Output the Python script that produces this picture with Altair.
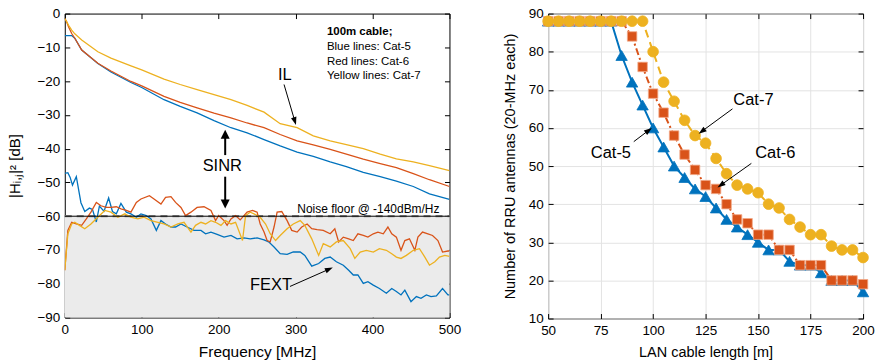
import math
import altair as alt
import pandas as pd

# ---------------- Left panel data: |H_ij|^2 in dB vs frequency ----------------
IL_FREQ = [0, 2, 5, 9, 13, 22, 43, 60, 86, 100, 129, 150, 172, 194, 216, 237, 259, 280, 302, 323, 345, 366, 388, 410, 431, 453, 474, 500]
IL_CAT5 = [-6.5, -6.5, -6.5, -6.5, -7.3, -10.8, -14.8, -17.3, -20.4, -21.9, -25.5, -27.5, -29.4, -31.7, -33.8, -35.3, -37.3, -39.2, -41.0, -42.3, -43.9, -45.3, -47.0, -48.3, -49.6, -51.2, -53.4, -55.0]
IL_CAT6 = [-1.5, -2.2, -4.0, -5.9, -7.3, -10.8, -14.7, -17.0, -20.1, -21.4, -24.5, -26.3, -27.9, -29.5, -30.9, -32.4, -33.8, -35.8, -37.7, -38.9, -40.2, -41.6, -43.1, -44.4, -45.6, -47.4, -49.2, -51.2]
IL_CAT7 = [-1.5, -2.2, -3.5, -4.9, -6.0, -7.8, -11.3, -13.2, -15.5, -16.7, -19.4, -21.0, -22.5, -24.0, -25.5, -27.2, -29.2, -32.6, -33.8, -36.2, -37.7, -38.8, -40.0, -41.6, -43.0, -43.9, -45.0, -46.5]

FEXT5_FREQ = [0, 4, 7, 10, 15, 21, 26, 32, 36, 41, 45, 51, 57, 62, 67, 73, 80, 86, 93, 99, 106, 112, 119, 125, 131, 138, 144, 151, 159, 168, 177, 183, 190, 198, 207, 216, 224, 233, 241, 250, 259, 265, 272, 280, 289, 297, 306, 312, 321, 330, 338, 345, 353, 362, 369, 375, 381, 388, 394, 401, 409, 418, 425, 431, 437, 442, 450, 457, 463, 470, 476, 483, 491, 498, 500]
FEXT5 = [-47.3, -47.1, -48.5, -50.8, -48.3, -56.0, -58.6, -57.6, -58.0, -61.7, -57.0, -58.5, -54.6, -58.6, -59.3, -56.2, -58.8, -59.3, -60.3, -59.3, -59.8, -60.8, -64.2, -61.3, -62.3, -63.2, -63.2, -62.3, -63.2, -64.2, -64.2, -65.2, -64.7, -65.4, -66.2, -65.7, -66.7, -66.4, -66.7, -66.4, -67.0, -67.6, -69.1, -71.1, -71.3, -70.6, -70.6, -71.6, -74.8, -74.0, -72.5, -72.1, -73.5, -74.5, -76.0, -77.4, -77.4, -79.9, -79.4, -80.4, -81.4, -82.8, -81.4, -82.3, -83.3, -81.9, -85.3, -83.8, -84.3, -83.3, -83.8, -83.6, -81.4, -83.3, -83.3]

FEXT6_FREQ = [0, 4, 9, 15, 22, 28, 34, 41, 47, 54, 60, 67, 73, 80, 86, 93, 99, 110, 116, 125, 131, 138, 144, 151, 157, 164, 172, 181, 190, 196, 200, 207, 211, 216, 222, 228, 237, 244, 250, 254, 259, 263, 267, 272, 276, 282, 289, 295, 302, 308, 315, 321, 328, 336, 345, 351, 356, 362, 369, 375, 381, 388, 394, 401, 407, 414, 420, 425, 431, 437, 442, 448, 455, 459, 465, 472, 478, 485, 491, 498, 500]
FEXT6 = [-76.0, -64.2, -61.8, -62.3, -62.7, -60.8, -58.8, -55.9, -56.9, -57.4, -57.4, -57.2, -57.8, -58.3, -58.8, -55.9, -54.9, -53.9, -54.9, -56.4, -54.4, -54.2, -55.9, -57.4, -59.8, -58.8, -57.4, -57.2, -58.3, -61.3, -59.8, -61.3, -62.7, -60.8, -59.8, -61.1, -58.8, -58.3, -58.8, -62.3, -64.7, -67.2, -67.6, -63.2, -58.8, -58.6, -61.3, -64.2, -64.7, -63.2, -62.3, -63.7, -64.0, -64.2, -65.2, -63.7, -67.6, -66.2, -66.7, -67.2, -65.2, -65.7, -66.2, -65.2, -64.7, -65.2, -63.2, -65.2, -66.2, -70.1, -67.2, -66.7, -70.1, -66.2, -64.7, -65.2, -65.7, -67.2, -70.6, -70.3, -70.3]

FEXT7_FREQ = [0, 4, 9, 13, 19, 26, 34, 43, 52, 60, 69, 78, 86, 95, 103, 112, 121, 129, 138, 147, 155, 164, 170, 177, 183, 190, 196, 203, 209, 216, 222, 231, 235, 241, 246, 254, 261, 267, 274, 280, 289, 297, 306, 312, 321, 330, 336, 345, 353, 362, 371, 377, 384, 392, 401, 409, 418, 425, 431, 437, 444, 453, 461, 468, 474, 481, 487, 494, 500]
FEXT7 = [-76.0, -65.2, -62.3, -61.8, -62.7, -63.7, -62.3, -60.3, -58.3, -58.8, -60.3, -59.3, -60.3, -60.8, -60.3, -61.3, -61.8, -62.3, -63.2, -62.3, -61.8, -64.7, -62.7, -61.8, -62.3, -61.3, -61.8, -62.7, -61.3, -62.3, -61.8, -67.2, -59.8, -58.8, -59.3, -60.3, -62.3, -65.2, -67.2, -65.7, -63.7, -62.3, -61.3, -62.7, -66.7, -71.6, -68.1, -69.1, -67.6, -67.2, -69.6, -72.5, -70.6, -70.1, -70.6, -69.6, -70.1, -71.1, -72.1, -72.5, -71.6, -70.1, -69.6, -72.1, -74.5, -73.5, -72.1, -71.6, -71.9]

NOISE_FLOOR = -60
FREQ_DOMAIN = [0, 500]
DB_DOMAIN = [-90, 0]
FREQ_TICKS = [0, 100, 200, 300, 400, 500]
DB_TICKS = [-90, -80, -70, -60, -50, -40, -30, -20, -10, 0]

LEGEND_LINES = ["100m cable;", "Blue lines: Cat-5", "Red lines: Cat-6", "Yellow lines: Cat-7"]
LEGEND_Y = [-5.6, -9.8, -14.2, -18.6]

# ---------------- Right panel data: RRU antennas vs LAN length ----------------
LAN_LENGTH = [50, 55, 60, 65, 70, 75, 80, 85, 90, 95, 100, 105, 110, 115, 120, 125, 130, 135, 140, 145, 150, 155, 160, 165, 170, 175, 180, 185, 190, 195, 200]
RRU_CAT5 = [88, 88, 88, 88, 88, 88, 88, 79, 72, 66, 60, 55, 50, 47, 44, 42, 39, 36, 34, 32, 30, 28, 28, 25, 24, 24, 22, 20, 20, 20, 17]
RRU_CAT6 = [88, 88, 88, 88, 88, 88, 88, 88, 84, 76, 69, 64, 58, 53, 49, 45, 44, 40, 36, 35, 32, 32, 28, 28, 24, 24, 24, 20, 20, 20, 19]
RRU_CAT7 = [88, 88, 88, 88, 88, 88, 88, 88, 88, 88, 80, 72, 67, 62, 58, 56, 52, 48, 45, 44, 43, 40, 39, 36, 34, 32, 32, 29, 28, 28, 26]
LEN_DOMAIN = [50, 200]
RRU_DOMAIN = [10, 90]
LEN_TICKS = [50, 75, 100, 125, 150, 175, 200]
RRU_TICKS = [10, 20, 30, 40, 50, 60, 70, 80, 90]

BLUE, RED, YELLOW = "#0072BD", "#D95319", "#EDB120"
FONT = "Liberation Sans"

W1, H1 = 386, 305
W2, H2 = 316, 306


def inward_tick_layers(df, xf, yf, xs, ys, xv, yv):
    base = alt.Chart(df).mark_point(opacity=0)
    out = []
    for xo, yo in (("bottom", "left"), ("top", "right")):
        out.append(base.encode(
            x=alt.X(f"{xf}:Q", scale=xs, axis=alt.Axis(orient=xo, offset=-5, tickSize=5, labels=False,
                                                     domain=False, grid=False, title=None, values=xv,
                                                     tickColor="black", tickWidth=1)),
            y=alt.Y(f"{yf}:Q", scale=ys, axis=alt.Axis(orient=yo, offset=-5, tickSize=5, labels=False,
                                                     domain=False, grid=False, title=None, values=yv,
                                                     tickColor="black", tickWidth=1)),
        ))
    return out


def arrow_df(arrows, W, H, xdom, ydom, head_len):
    sx = W / (xdom[1] - xdom[0])
    sy = H / (ydom[1] - ydom[0])
    rows = []
    for x0, y0, x1, y1 in arrows:
        dxp = (x1 - x0) * sx
        dyp = -(y1 - y0) * sy
        lp = math.hypot(dxp, dyp)
        ang = math.degrees(math.atan2(dxp, -dyp)) % 360
        f = max(0.0, (lp - head_len * 0.7) / lp)
        rows.append(dict(x0=x0, y0=y0, xe=x0 + (x1 - x0) * f, ye=y0 + (y1 - y0) * f, x1=x1, y1=y1, angle=ang))
    return pd.DataFrame(rows)


def arrow_layers(df, xs, ys, width, head_len, half_w):
    shape = f"M0,0L{half_w},1L-{half_w},1Z"
    shaft = alt.Chart(df).mark_rule(color="black", strokeWidth=width).encode(
        x=alt.X("x0:Q", scale=xs, axis=None), y=alt.Y("y0:Q", scale=ys, axis=None),
        x2="xe:Q", y2="ye:Q")
    head = alt.Chart(df).mark_point(shape=shape, filled=True, color="black", opacity=1,
                                    size=4 * head_len * head_len, strokeWidth=0).encode(
        x=alt.X("x1:Q", scale=xs, axis=None), y=alt.Y("y1:Q", scale=ys, axis=None),
        angle=alt.Angle("angle:Q", scale=None))
    return [shaft, head]


# ================= LEFT CHART =================
xs1 = alt.Scale(domain=FREQ_DOMAIN, nice=False, zero=False)
ys1 = alt.Scale(domain=DB_DOMAIN, nice=False, zero=False)

floor_df = pd.DataFrame({"x0": [FREQ_DOMAIN[0]], "x1": [FREQ_DOMAIN[1]], "y0": [NOISE_FLOOR], "y1": [DB_DOMAIN[0]]})
gray = alt.Chart(floor_df).mark_rect(color="#ebebeb").encode(
    x=alt.X("x0:Q", scale=xs1, axis=None), x2="x1:Q",
    y=alt.Y("y0:Q", scale=ys1, axis=None), y2="y1:Q")
floor_dash = alt.Chart(floor_df).mark_rule(color="#8c8c8c", strokeWidth=2.2, strokeDash=[7, 5]).encode(
    x=alt.X("x0:Q", scale=xs1, axis=None), x2="x1:Q", y=alt.Y("y0:Q", scale=ys1, axis=None))
floor_line = alt.Chart(floor_df).mark_rule(color="black", strokeWidth=1).encode(
    x=alt.X("x0:Q", scale=xs1, axis=None), x2="x1:Q", y=alt.Y("y0:Q", scale=ys1, axis=None))


def series_line(freq, vals, color, main_axes=False):
    df = pd.DataFrame({"f": freq, "v": vals})
    if main_axes:
        xa = alt.Axis(orient="bottom", title="Frequency [MHz]", values=FREQ_TICKS, ticks=False, tickSize=0,
                      domain=False, grid=False, labelPadding=5, titlePadding=9, labelFlush=False,
                      labelOverlap=False, titleFontSize=15.5)
        ya = alt.Axis(orient="left", title="|Hᵢ,ⱼ|² [dB]", values=DB_TICKS, ticks=False, tickSize=0,
                      domain=False, grid=False, labelPadding=5, titlePadding=15, labelFlush=False,
                      labelOverlap=False, titleFontSize=15)
    else:
        xa = None
        ya = None
    return alt.Chart(df).mark_line(color=color, strokeWidth=1.3, clip=True).encode(
        x=alt.X("f:Q", scale=xs1, axis=xa), y=alt.Y("v:Q", scale=ys1, axis=ya))


il_main = series_line(IL_FREQ, IL_CAT5, BLUE, main_axes=True)
left_layers = [gray, floor_dash,
               series_line(FEXT5_FREQ, FEXT5, BLUE),
               series_line(FEXT6_FREQ, FEXT6, RED),
               series_line(FEXT7_FREQ, FEXT7, YELLOW),
               floor_line,
               il_main,
               series_line(IL_FREQ, IL_CAT6, RED),
               series_line(IL_FREQ, IL_CAT7, YELLOW)]

left_layers += inward_tick_layers(pd.DataFrame({"f": IL_FREQ, "v": IL_CAT6}), "f", "v", xs1, ys1, FREQ_TICKS, DB_TICKS)

legend_df = pd.DataFrame({"t": LEGEND_LINES, "x": [340.7] * 4, "y": LEGEND_Y,
                          "w": ["bold", "normal", "normal", "normal"]})
for i, row in legend_df.iterrows():
    left_layers.append(alt.Chart(legend_df.iloc[[i]]).mark_text(
        align="left", baseline="middle", fontSize=11.5, font=FONT, color="black",
        fontWeight=row["w"]).encode(
        x=alt.X("x:Q", scale=xs1, axis=None), y=alt.Y("y:Q", scale=ys1, axis=None), text="t:N"))

ann_left = pd.DataFrame({"t": ["IL", "SINR", "FEXT"], "x": [286, 204.7, 268], "y": [-18.3, -45.1, -80.3]})
left_layers.append(alt.Chart(ann_left).mark_text(fontSize=16.5, font=FONT, color="black", baseline="middle").encode(
    x=alt.X("x:Q", scale=xs1, axis=None), y=alt.Y("y:Q", scale=ys1, axis=None), text="t:N"))
noise_df = pd.DataFrame({"t": ["Noise floor @ -140dBm/Hz"], "x": [487], "y": [-58.0]})
left_layers.append(alt.Chart(noise_df).mark_text(fontSize=12, font=FONT, color="black", align="right", baseline="middle").encode(
    x=alt.X("x:Q", scale=xs1, axis=None), y=alt.Y("y:Q", scale=ys1, axis=None), text="t:N"))

thin_left = arrow_df([(285, -21.0, 300.5, -33.0), (292.7, -80.8, 348.4, -75.2)], W1, H1, FREQ_DOMAIN, DB_DOMAIN, 8)
thick_left = arrow_df([(208.5, -41.9, 208.5, -34.4), (208.5, -48.3, 208.5, -57.7)], W1, H1, FREQ_DOMAIN, DB_DOMAIN, 9)
left_layers += arrow_layers(thin_left, xs1, ys1, 1, 8, 0.35)
left_layers += arrow_layers(thick_left, xs1, ys1, 2, 9, 0.5)

left = alt.layer(*left_layers).resolve_axis(x="independent", y="independent").properties(width=W1, height=H1)

# ================= RIGHT CHART =================
xs2 = alt.Scale(domain=LEN_DOMAIN, nice=False, zero=False)
ys2 = alt.Scale(domain=RRU_DOMAIN, nice=False, zero=False)


def rru_series(vals, color, dash, shape, size, edge, main_axes=False):
    df = pd.DataFrame({"L": LAN_LENGTH, "N": vals})
    if main_axes:
        xa = alt.Axis(orient="bottom", title="LAN cable length [m]", values=LEN_TICKS, ticks=False, tickSize=0,
                      domain=False, grid=True, gridColor="#e3e3e3", labelPadding=5, titlePadding=9,
                      labelFlush=False, labelOverlap=False, titleFontSize=14.5)
        ya = alt.Axis(orient="left", title="Number of RRU antennas (20-MHz each)", values=RRU_TICKS, ticks=False,
                      tickSize=0, domain=False, grid=True, gridColor="#e3e3e3", labelPadding=5, titlePadding=11,
                      labelFlush=False, labelOverlap=False, titleFontSize=14.5)
    else:
        xa = None
        ya = None
    line_kw = dict(color=color, strokeWidth=2, clip=True)
    if dash:
        line_kw["strokeDash"] = dash
    line = alt.Chart(df).mark_line(**line_kw).encode(
        x=alt.X("L:Q", scale=xs2, axis=xa), y=alt.Y("N:Q", scale=ys2, axis=ya))
    pts = alt.Chart(df).mark_point(shape=shape, filled=True, color=color, opacity=1, size=size,
                                   stroke=edge, strokeWidth=0.8, clip=False).encode(
        x=alt.X("L:Q", scale=xs2, axis=None), y=alt.Y("N:Q", scale=ys2, axis=None))
    return [line, pts]


right_layers = []
right_layers += rru_series(RRU_CAT5, BLUE, None, "triangle-up", 130, BLUE, main_axes=True)
right_layers += rru_series(RRU_CAT6, RED, [7, 3, 2, 3], "square", 90, "#f2a886")
right_layers += rru_series(RRU_CAT7, YELLOW, [8, 5], "circle", 115, YELLOW)
right_layers += inward_tick_layers(pd.DataFrame({"L": LAN_LENGTH, "N": RRU_CAT7}), "L", "N", xs2, ys2, LEN_TICKS, RRU_TICKS)

ann_right = pd.DataFrame({"t": ["Cat-7", "Cat-5", "Cat-6"], "x": [147.8, 79.9, 158.2], "y": [67.3, 53.3, 53.3]})
right_layers.append(alt.Chart(ann_right).mark_text(fontSize=16.5, font=FONT, color="black", baseline="middle").encode(
    x=alt.X("x:Q", scale=xs2, axis=None), y=alt.Y("y:Q", scale=ys2, axis=None), text="t:N"))
arr_right = arrow_df([(137.8, 65.0, 121.7, 58.5), (90.8, 56.4, 99.4, 60.0), (146.8, 50.7, 130.7, 44.4)],
                     W2, H2, LEN_DOMAIN, RRU_DOMAIN, 8)
right_layers += arrow_layers(arr_right, xs2, ys2, 1, 8, 0.35)

right = alt.layer(*right_layers).resolve_axis(x="independent", y="independent").properties(width=W2, height=H2)

chart = alt.hconcat(left, right, spacing=40).properties(
    padding={"left": 6, "right": 0, "top": 5, "bottom": 0}
).configure(font=FONT).configure_view(stroke="black", strokeWidth=1).configure_axis(
    labelFont=FONT, titleFont=FONT, labelFontSize=13.5, labelColor="black", titleColor="black",
    titleFontWeight="normal"
).configure_text(font=FONT)

chart.save("out.html", embed_options={"renderer": "svg", "actions": False})
